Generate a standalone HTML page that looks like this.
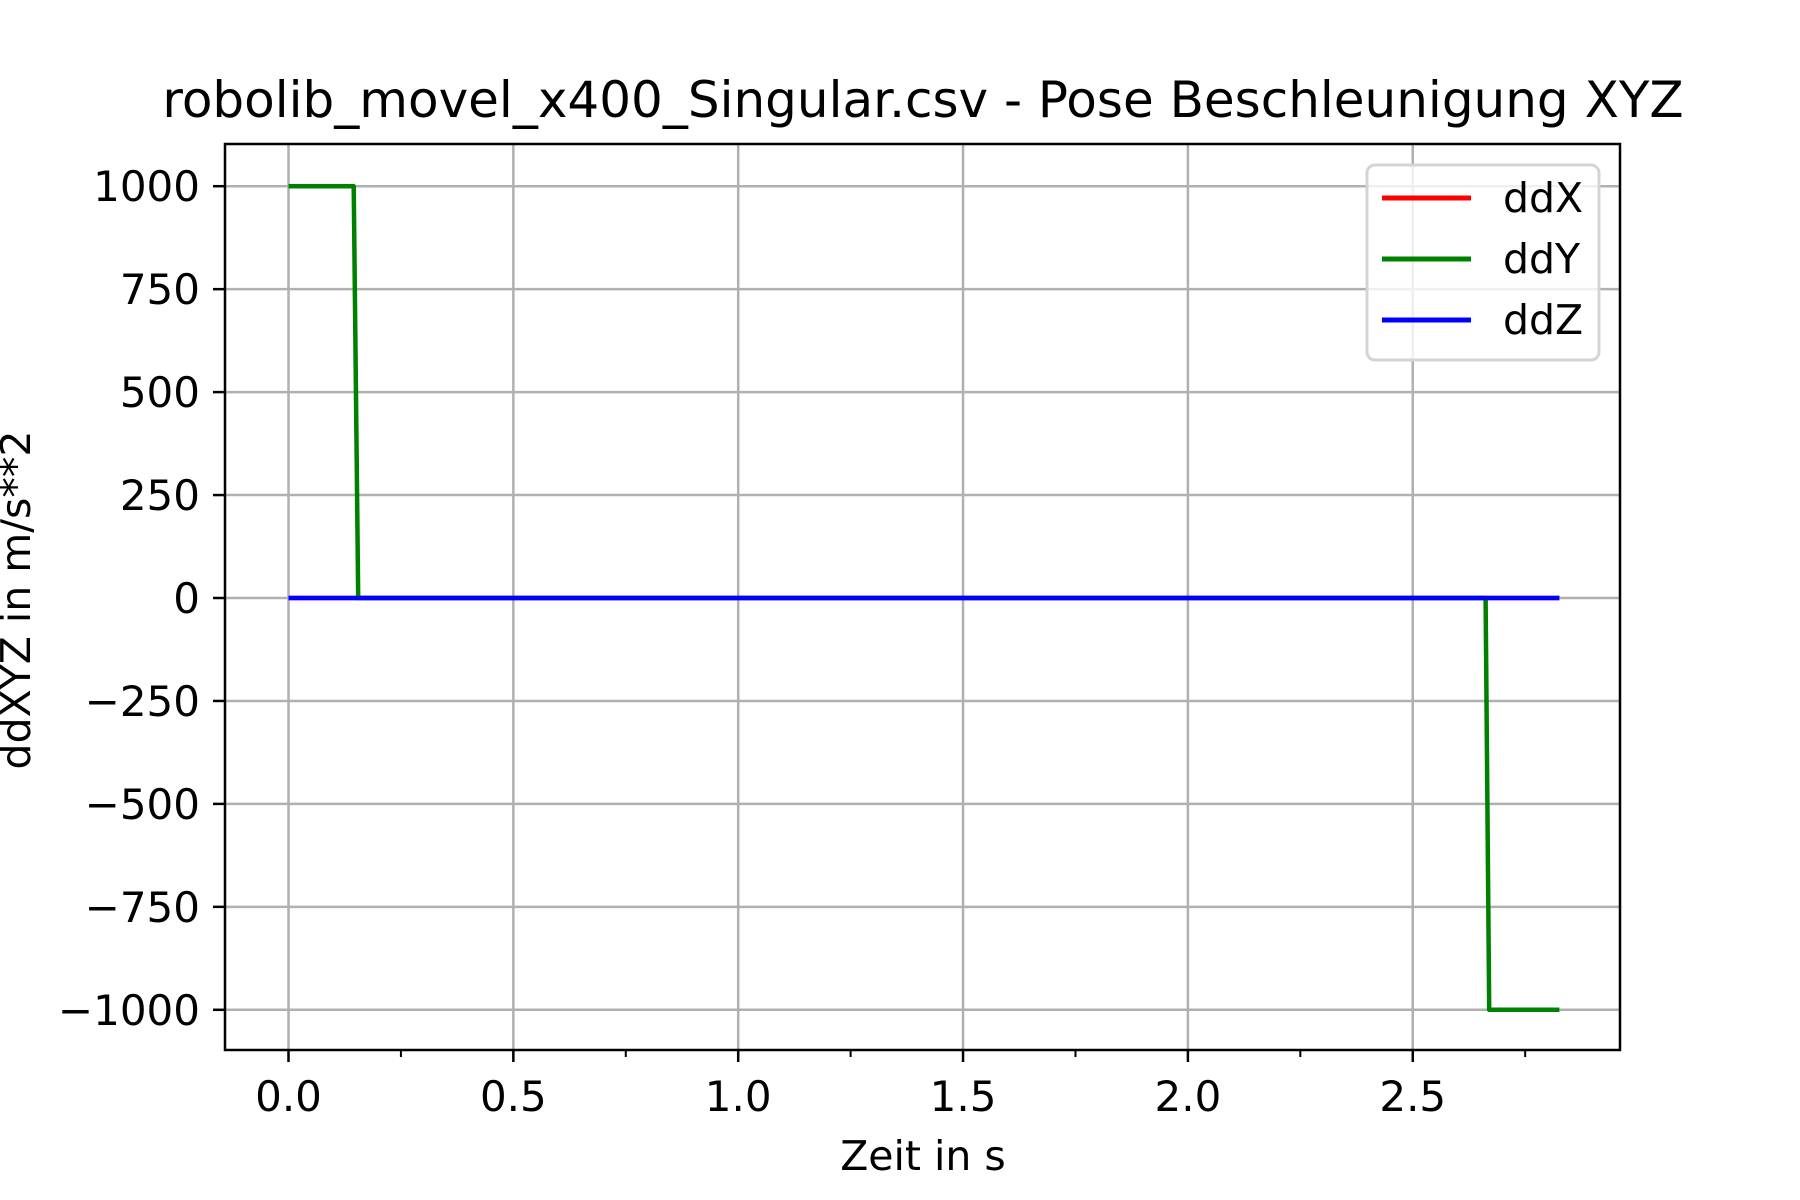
<!DOCTYPE html>
<html><head><meta charset="utf-8"><style>
html,body{margin:0;padding:0;background:#fff}
svg{display:block;font-family:"DejaVu Sans","Liberation Sans",sans-serif}
</style></head><body>
<svg width="1800" height="1200" viewBox="0 0 1800 1200">
<g id="grid"></g>
<g id="series"></g>
<rect x="225" y="144" width="1395" height="906" fill="none" stroke="#000" stroke-width="2.5"/>
<g id="ticks"></g>
<text x="923" y="117" font-size="50" text-anchor="middle">robolib_movel_x400_Singular.csv - Pose Beschleunigung XYZ</text>
<text x="923" y="1170" font-size="41" text-anchor="middle">Zeit in s</text>
<text transform="translate(30,600) rotate(-90)" font-size="41" text-anchor="middle">ddXYZ in m/s**2</text>
<g>
<rect x="1367" y="165" width="232" height="195" rx="8" fill="#fff" fill-opacity="0.8" stroke="#d4d4d4" stroke-width="3"/>
<line x1="1382" y1="198" x2="1471" y2="198" stroke="#ff0000" stroke-width="5"/>
<text x="1503" y="212" font-size="41">ddX</text>
<line x1="1382" y1="259" x2="1471" y2="259" stroke="#008000" stroke-width="5"/>
<text x="1503" y="273" font-size="41">ddY</text>
<line x1="1382" y1="320" x2="1471" y2="320" stroke="#0000ff" stroke-width="5"/>
<text x="1503" y="334" font-size="41">ddZ</text>
</g>
</svg>
<script>
const time = [0, 0.145, 0.155, 2.662, 2.67, 2.826];
const ddX = [0, 0, 0, 0, 0, 0];
const ddY = [1000, 1000, 0, 0, -1000, -1000];
const ddZ = [0, 0, 0, 0, 0, 0];
const xTicks = [0, 0.5, 1.0, 1.5, 2.0, 2.5];
const xTickLabels = ["0.0", "0.5", "1.0", "1.5", "2.0", "2.5"];
const xMinorTicks = [0.25, 0.75, 1.25, 1.75, 2.25, 2.75];
const yTicks = [1000, 750, 500, 250, 0, -250, -500, -750, -1000];
const yTickLabels = ["1000", "750", "500", "250", "0", "\u2212250", "\u2212500", "\u2212750", "\u22121000"];

const NS = "http://www.w3.org/2000/svg";
const X = v => 288.5 + v * 449.7;
const Y = v => 598 - v * 0.4118;
function mk(tag, attrs, parent){const e=document.createElementNS(NS,tag);for(const k in attrs)e.setAttribute(k,attrs[k]);parent.appendChild(e);return e;}
const grid=document.getElementById('grid'), ticks=document.getElementById('ticks'), series=document.getElementById('series');
xTicks.forEach((t,i)=>{
  const g=mk('line',{x1:X(t),x2:X(t),y1:144,y2:1050,stroke:'#b0b0b0','stroke-width':2.5},grid);
  
  
  const tk=mk('line',{x1:X(t),x2:X(t),y1:1050,y2:1062,stroke:'#000','stroke-width':2.5},ticks);
  
  
  const tl=mk('text',{x:X(t),y:1111,'font-size':42,'text-anchor':'middle'},ticks);
  tl.textContent=xTickLabels[i];
  
  
});
xMinorTicks.forEach(t=>{
  const tk=mk('line',{x1:X(t),x2:X(t),y1:1050,y2:1057,stroke:'#000','stroke-width':2},ticks);
  
  
});
yTicks.forEach((t,i)=>{
  const g=mk('line',{x1:225,x2:1620,y1:Y(t),y2:Y(t),stroke:'#b0b0b0','stroke-width':2.5},grid);
  
  
  const tk=mk('line',{x1:213,x2:225,y1:Y(t),y2:Y(t),stroke:'#000','stroke-width':2.5},ticks);
  
  
  const tl=mk('text',{x:200,y:Y(t)+15,'font-size':42,'text-anchor':'end'},ticks);
  tl.textContent=yTickLabels[i];
  
  
});
[[ddX,'#ff0000','line-ddx'],[ddY,'#008000','line-ddy'],[ddZ,'#0000ff','line-ddz']].forEach(([vals,c,n])=>{
  const p=mk('polyline',{points:time.map((t,i)=>X(t)+','+Y(vals[i])).join(' '),fill:'none',stroke:c,'stroke-width':4.5,'stroke-linejoin':'round'},series);
  
  
});
</script>
</body></html>
